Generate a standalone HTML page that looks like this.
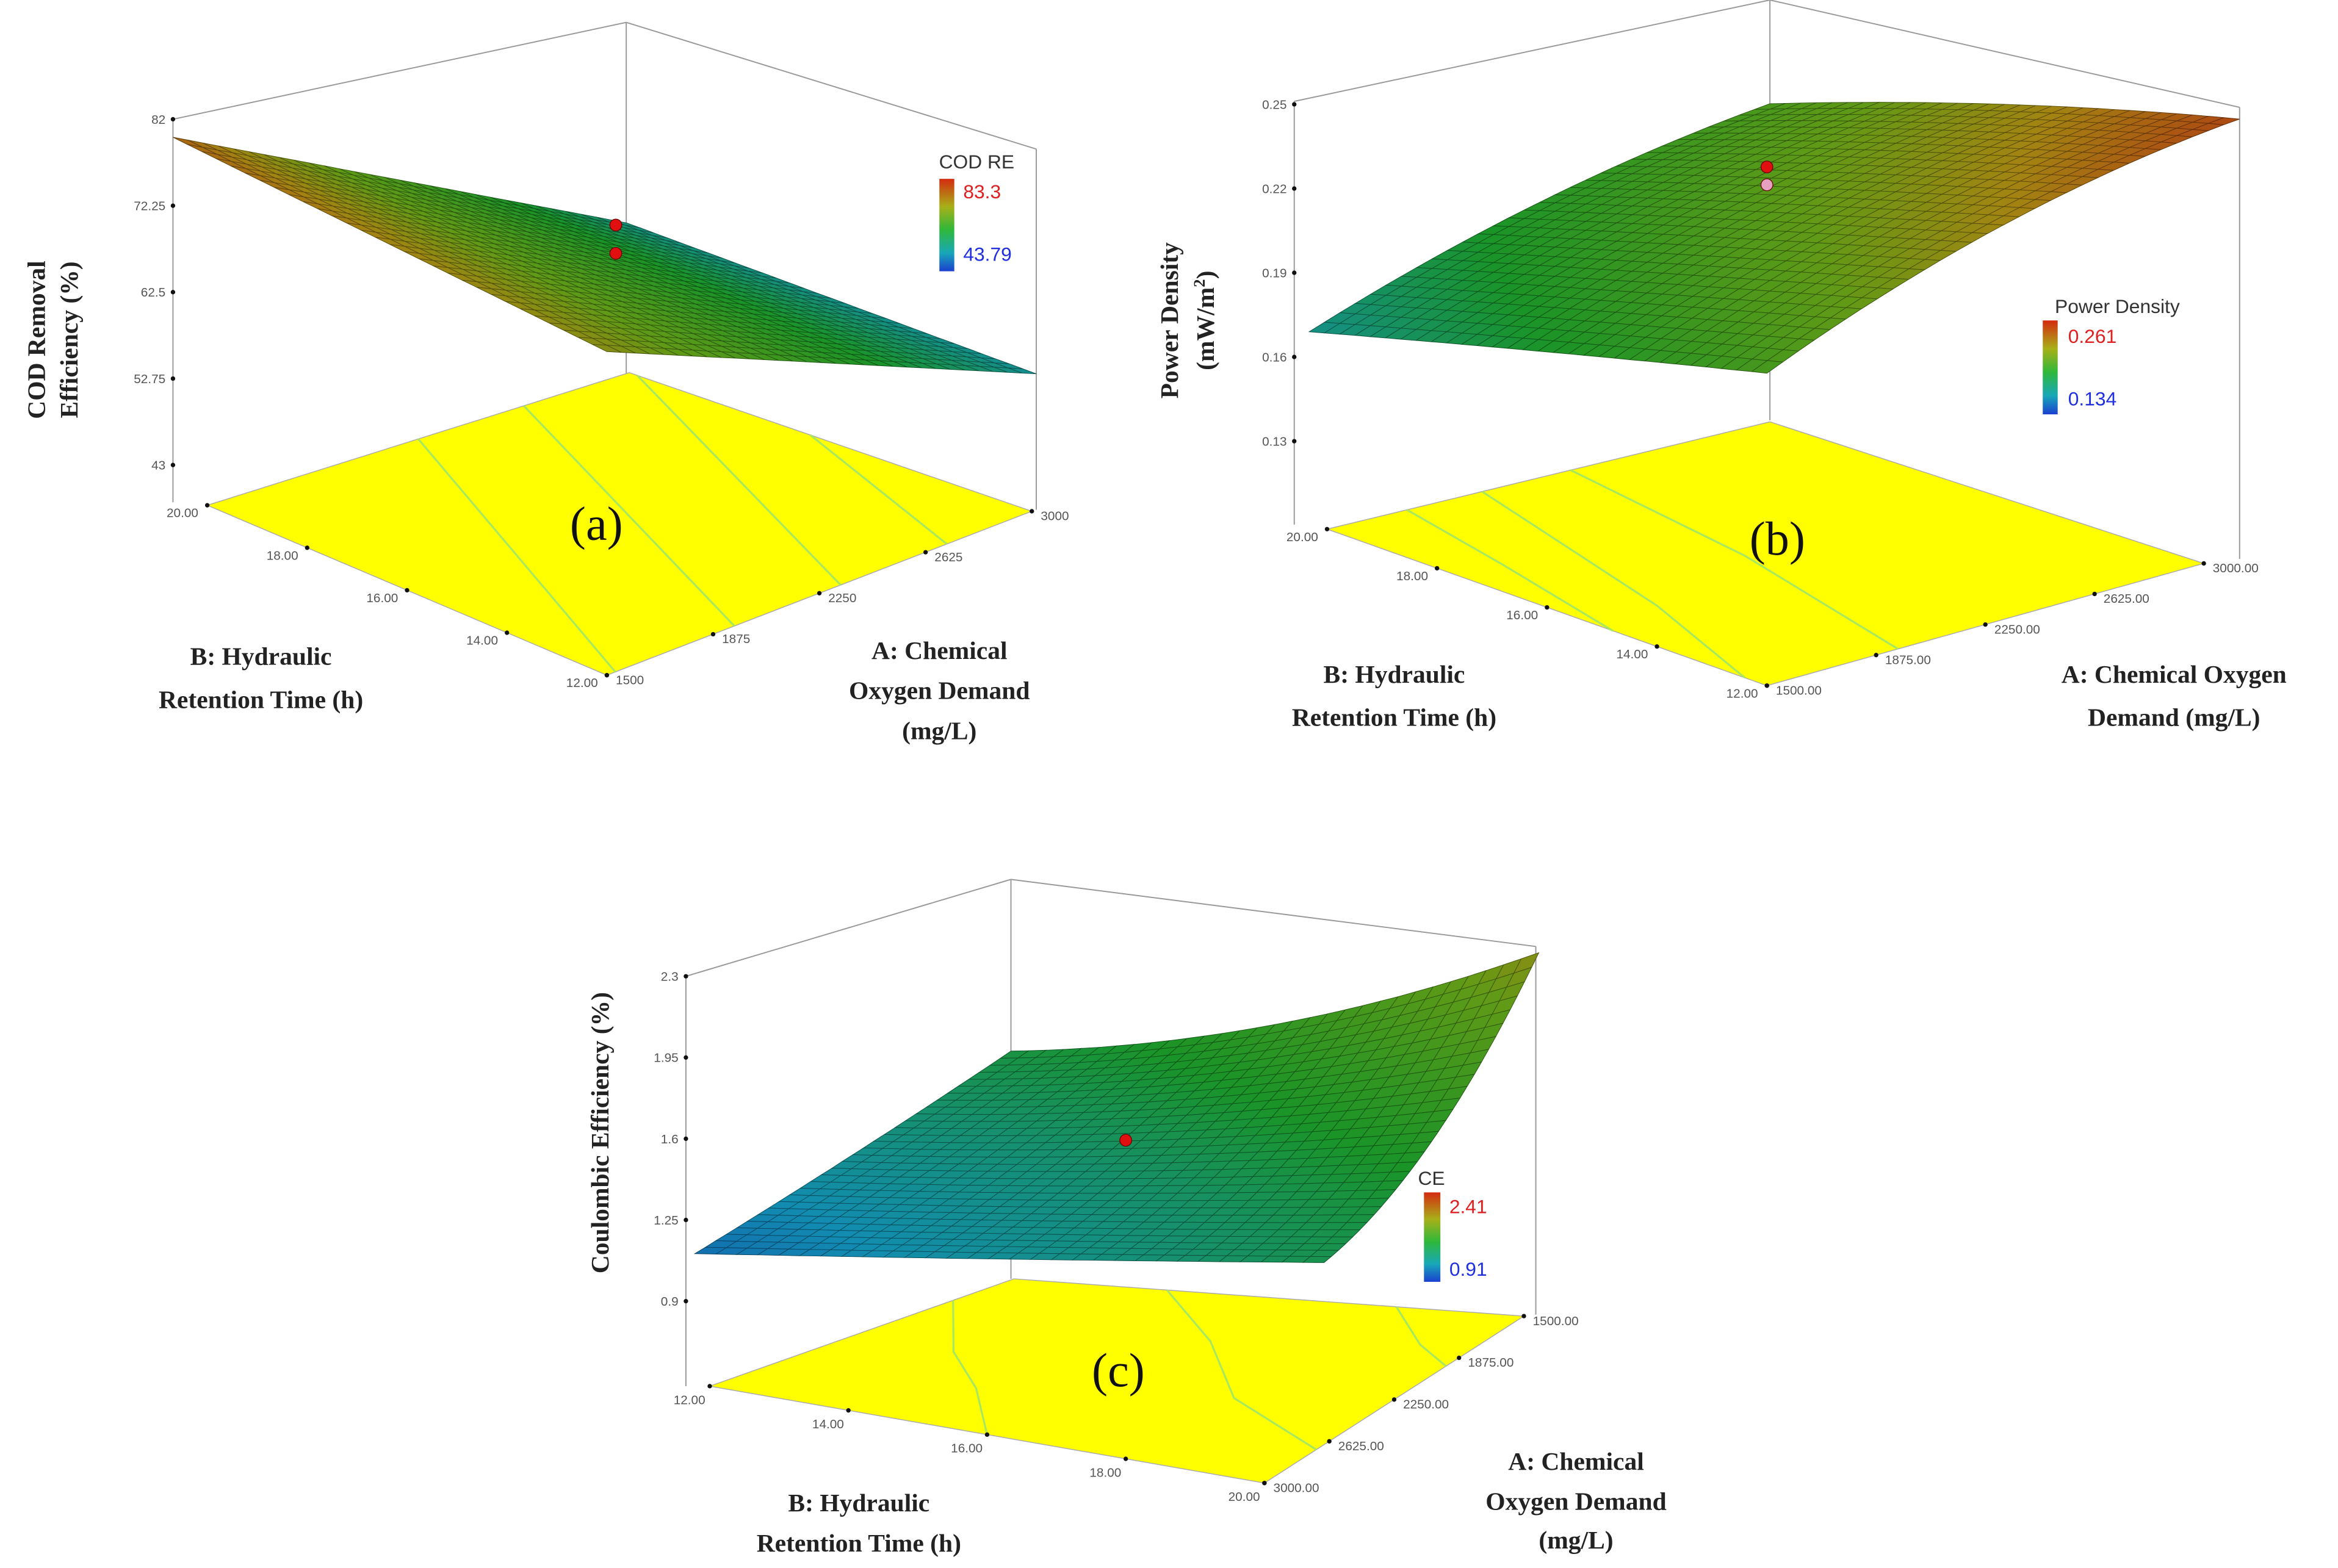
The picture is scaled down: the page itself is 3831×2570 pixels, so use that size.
<!DOCTYPE html>
<html><head><meta charset="utf-8"><style>
html,body{margin:0;padding:0;background:#fff;}
svg{display:block;}
.tk{font-family:"Liberation Sans",sans-serif;font-size:8.5px;fill:#555;}
.ti{font-family:"Liberation Serif",serif;font-weight:bold;font-size:17px;fill:#222;}
.pl{font-family:"Liberation Serif",serif;font-size:32px;fill:#111;}
.lg{font-family:"Liberation Sans",sans-serif;font-size:13px;}
</style></head><body>
<svg id="fig" width="3831" height="2570" viewBox="0 0 1568 1052" preserveAspectRatio="none" xmlns="http://www.w3.org/2000/svg">
<defs>
<linearGradient id="lgd" x1="0" y1="0" x2="0" y2="1">
<stop offset="0" stop-color="#d42a10"/><stop offset="0.3" stop-color="#a8b018"/><stop offset="0.55" stop-color="#2fb83a"/><stop offset="0.8" stop-color="#18a8b8"/><stop offset="1" stop-color="#1a40d0"/>
</linearGradient>
</defs>
<g id="pa"></g>
<g id="pb"></g>
<g id="pc"></g>

<g>
<text class="ti" transform="translate(30,228) rotate(-90)" text-anchor="middle">COD Removal</text>
<text class="ti" transform="translate(52,228) rotate(-90)" text-anchor="middle">Efficiency (%)</text>
<text class="ti" x="175" y="446" text-anchor="middle">B: Hydraulic</text>
<text class="ti" x="175" y="475" text-anchor="middle">Retention Time (h)</text>
<text class="ti" x="630" y="442" text-anchor="middle">A: Chemical</text>
<text class="ti" x="630" y="469" text-anchor="middle">Oxygen Demand</text>
<text class="ti" x="630" y="496" text-anchor="middle">(mg/L)</text>
<text class="pl" x="400" y="362" text-anchor="middle">(a)</text>
<text class="lg" x="655" y="113" text-anchor="middle" fill="#333">COD RE</text>
<rect x="630" y="120" width="10" height="62" fill="url(#lgd)"/>
<text class="lg" x="646" y="133" fill="#e02020">83.3</text>
<text class="lg" x="646" y="175" fill="#2030e0">43.79</text>
</g>
<g>
<text class="ti" transform="translate(790,215) rotate(-90)" text-anchor="middle">Power Density</text>
<text class="ti" transform="translate(814,215) rotate(-90)" text-anchor="middle">(mW/m<tspan font-size="11" dy="-6">2</tspan><tspan dy="6">)</tspan></text>
<text class="ti" x="935" y="458" text-anchor="middle">B: Hydraulic</text>
<text class="ti" x="935" y="487" text-anchor="middle">Retention Time (h)</text>
<text class="ti" x="1458" y="458" text-anchor="middle">A: Chemical Oxygen</text>
<text class="ti" x="1458" y="487" text-anchor="middle">Demand (mg/L)</text>
<text class="pl" x="1192" y="372" text-anchor="middle">(b)</text>
<text class="lg" x="1420" y="210" text-anchor="middle" fill="#333">Power Density</text>
<rect x="1370" y="215" width="10" height="63" fill="url(#lgd)"/>
<text class="lg" x="1387" y="230" fill="#e02020">0.261</text>
<text class="lg" x="1387" y="272" fill="#2030e0">0.134</text>
</g>
<g>
<text class="ti" transform="translate(408,760) rotate(-90)" text-anchor="middle">Coulombic Efficiency (%)</text>
<text class="ti" x="576" y="1014" text-anchor="middle">B: Hydraulic</text>
<text class="ti" x="576" y="1041" text-anchor="middle">Retention Time (h)</text>
<text class="ti" x="1057" y="986" text-anchor="middle">A: Chemical</text>
<text class="ti" x="1057" y="1013" text-anchor="middle">Oxygen Demand</text>
<text class="ti" x="1057" y="1039" text-anchor="middle">(mg/L)</text>
<text class="pl" x="750" y="930" text-anchor="middle">(c)</text>
<text class="lg" x="960" y="795" text-anchor="middle" fill="#333">CE</text>
<rect x="955" y="800" width="11" height="60" fill="url(#lgd)"/>
<text class="lg" x="972" y="814" fill="#e02020">2.41</text>
<text class="lg" x="972" y="856" fill="#2030e0">0.91</text>
</g>
</svg>
<script>
// ---- data ----
const aZTicks = [82, 72.25, 62.5, 52.75, 43];
const aATicks = ["1500", "1875", "2250", "2625", "3000"];
const aBTicks = ["12.00", "14.00", "16.00", "18.00", "20.00"];
const aGrid = [[75, 64.5, 54], [77.5, 66, 54.7], [80, 67.7, 55.4]]; // rows B=12,16,20 ; cols A=1500,2250,3000
const aRange = [43.79, 83.3];

const bZTicks = [0.25, 0.22, 0.19, 0.16, 0.13];
const bATicks = ["1500.00", "1875.00", "2250.00", "2625.00", "3000.00"];
const bBTicks = ["12.00", "14.00", "16.00", "18.00", "20.00"];
const bGrid = [[0.210, 0.241, 0.257], [0.190, 0.219, 0.237], [0.169, 0.196, 0.212]];
const bRange = [0.134, 0.261];

const cZTicks = [2.3, 1.95, 1.6, 1.25, 0.9];
const cATicks = ["1500.00", "1875.00", "2250.00", "2625.00", "3000.00"];
const cBTicks = ["12.00", "14.00", "16.00", "18.00", "20.00"];
const cGrid = [[1.515, 1.30, 1.105], [1.71, 1.44, 1.29], [2.10, 1.645, 1.484]];
const cRange = [0.91, 2.41];

const NS = "http://www.w3.org/2000/svg";
function mk(parent, tag, attrs) {
  const e = document.createElementNS(NS, tag);
  for (const k in attrs) e.setAttribute(k, attrs[k]);
  parent.appendChild(e);
  return e;
}
function lagr(vals, t) {
  const l0 = 2 * (t - 0.5) * (t - 1), l1 = -4 * t * (t - 1), l2 = 2 * t * (t - 0.5);
  return vals[0] * l0 + vals[1] * l1 + vals[2] * l2;
}
function surfZ(grid, u, v) {
  const rows = grid.map(r => lagr(r, u));
  return lagr(rows, v);
}
function cmap(t) {
  t = Math.max(0, Math.min(1, t));
  const st = [[0, 20, 60, 200], [0.2, 20, 160, 200], [0.45, 30, 168, 45], [0.7, 110, 175, 25], [0.85, 185, 150, 20], [1, 200, 65, 20]];
  for (let i = 0; i < st.length - 1; i++) {
    if (t <= st[i + 1][0]) {
      const f = (t - st[i][0]) / (st[i + 1][0] - st[i][0]);
      return [1, 2, 3].map(j => st[i][j] + f * (st[i + 1][j] - st[i][j]));
    }
  }
  return [200, 65, 20];
}
function rgb(c, m) { return "rgb(" + c.map(x => Math.round(x * m)).join(",") + ")"; }
function bil(C, u, v, k) {
  return (1 - u) * (1 - v) * C[0][k] + u * (1 - v) * C[1][k] + (1 - u) * v * C[2][k] + u * v * C[3][k];
}

function panel(cfg) {
  const g = document.getElementById(cfg.id);
  const F = cfg.floor, S = cfg.sx;
  const fl = (u, v) => [bil(F, u, v, 0), bil(F, u, v, 1)];
  const zScale = (cfg.zAxis.yBot - cfg.zAxis.yTop) / (cfg.zTicks[0] - cfg.zTicks[cfg.zTicks.length - 1]);
  const proj = (u, v, z) => [bil(S, u, v, 0), bil(F, u, v, 1) - (z - cfg.zFloor) * zScale];
  for (const L of cfg.box) {
    const l = mk(g, "line", { x1: L[0], y1: L[1], x2: L[2], y2: L[3], stroke: "#999", "stroke-width": 0.8 });
    
    
  }
  const zt = cfg.zTicks;
  zt.forEach((val, i) => {
    const y = cfg.zAxis.yTop + (val - zt[0]) / (zt[zt.length - 1] - zt[0]) * (cfg.zAxis.yBot - cfg.zAxis.yTop);
    const d = mk(g, "circle", { cx: cfg.zAxis.x, cy: y, r: 1.5, fill: "#111" });
    
    
    const t = mk(g, "text", { x: cfg.zAxis.x - 5, y: y + 3, "text-anchor": "end", class: "tk" });
    t.textContent = String(val);
    
    
  });
  const fp = mk(g, "polygon", { points: [F[0], F[1], F[3], F[2]].map(p => p.join(",")).join(" "), fill: "#ffff00", stroke: "#aaa", "stroke-width": 0.6 });
  
  
  for (const c of cfg.contours) {
    let d = "";
    c.forEach((p, i) => { const q = fl(p[0], p[1]); d += (i ? "L" : "M") + q[0].toFixed(1) + "," + q[1].toFixed(1); });
    const pth = mk(g, "path", { d: d, fill: "none", stroke: "#a8e860", "stroke-width": 1.3 });
    
    
  }
  cfg.aTicks.forEach((lab, i) => {
    const u = i / (cfg.aTicks.length - 1);
    const p = fl(u, cfg.aEdgeV);
    const d = mk(g, "circle", { cx: p[0], cy: p[1], r: 1.5, fill: "#111" });
    
    
    const t = mk(g, "text", { x: p[0] + cfg.aOff[0], y: p[1] + cfg.aOff[1], "text-anchor": "start", class: "tk" });
    t.textContent = lab;
    
    
  });
  cfg.bTicks.forEach((lab, i) => {
    const v = i / (cfg.bTicks.length - 1);
    const p = fl(cfg.bEdgeU, v);
    const d = mk(g, "circle", { cx: p[0], cy: p[1], r: 1.5, fill: "#111" });
    
    
    const t = mk(g, "text", { x: p[0] + cfg.bOff[0], y: p[1] + cfg.bOff[1], "text-anchor": "end", class: "tk" });
    t.textContent = lab;
    
    
  });
  const N = 30, cells = [];
  for (let i = 0; i < N; i++) for (let j = 0; j < N; j++) {
    const us = [i / N, (i + 1) / N], vs = [j / N, (j + 1) / N];
    const pts = [[us[0], vs[0]], [us[1], vs[0]], [us[1], vs[1]], [us[0], vs[1]]].map(q => proj(q[0], q[1], surfZ(cfg.grid, q[0], q[1])));
    const zc = surfZ(cfg.grid, (us[0] + us[1]) / 2, (vs[0] + vs[1]) / 2);
    const depth = fl((us[0] + us[1]) / 2, (vs[0] + vs[1]) / 2)[1];
    cells.push({ pts, zc, depth });
  }
  cells.sort((a, b) => a.depth - b.depth);
  const sg = mk(g, "g", {});
  
  
  for (const c of cells) {
    const col = cmap((c.zc - cfg.range[0]) / (cfg.range[1] - cfg.range[0]));
    const p = mk(sg, "polygon", { points: c.pts.map(q => q[0].toFixed(1) + "," + q[1].toFixed(1)).join(" "), fill: rgb(col, 0.88), stroke: rgb(col, 0.5), "stroke-width": 0.4 });
    
    
  }
  for (const d of cfg.dots) {
    const c = mk(g, "circle", { cx: d[0], cy: d[1], r: 4, fill: d[2], stroke: "#600", "stroke-width": 0.5 });
    
    
  }
}

// corner order: (Amin,Bmin), (Amax,Bmin), (Amin,Bmax), (Amax,Bmax)
panel({
  id: "pa", grid: aGrid, range: aRange, zTicks: aZTicks, zFloor: 38.5,
  zAxis: { x: 116, yTop: 80, yBot: 312 },
  floor: [[407, 453], [692, 343], [139, 339], [422, 250]],
  sx: [[407], [695], [116], [420]],
  box: [[116, 80, 116, 337], [420, 15, 420, 252], [695, 100, 695, 342], [116, 80, 420, 15], [420, 15, 695, 100]],
  contours: [[[0.02, 0], [0.5, 1]], [[0.3, 0], [0.75, 1]], [[0.55, 0], [1, 0.98]], [[0.8, 0], [1, 0.55]]],
  aTicks: aATicks, aEdgeV: 0, aOff: [6, 6],
  bTicks: aBTicks, bEdgeU: 0, bOff: [-6, 8],
  dots: [[413, 151, "#e01010"], [413, 170, "#e01010"]]
});
panel({
  id: "pb", grid: bGrid, range: bRange, zTicks: bZTicks, zFloor: 0.0987,
  zAxis: { x: 868, yTop: 70, yBot: 296 },
  floor: [[1185, 460], [1478, 378], [890, 355], [1187, 283]],
  sx: [[1185], [1502], [878], [1187]],
  box: [[868, 68, 868, 352], [1187, 0, 1187, 282], [1502, 72, 1502, 375], [868, 68, 1187, 0], [1187, 0, 1502, 72]],
  contours: [[[0, 0.35], [0.1, 0.7], [0.18, 1]], [[0, 0.05], [0.15, 0.4], [0.35, 1]], [[0.3, 0], [0.45, 0.5], [0.55, 1]]],
  aTicks: bATicks, aEdgeV: 0, aOff: [6, 6],
  bTicks: bBTicks, bEdgeU: 0, bOff: [-6, 8],
  dots: [[1185, 112, "#e01010"], [1185, 124, "#e8a0c0"]]
});
panel({
  id: "pc", grid: cGrid, range: cRange, zTicks: cZTicks, zFloor: 0.534,
  zAxis: { x: 460, yTop: 655, yBot: 873 },
  floor: [[680, 858], [476, 930], [1022, 883], [848, 995]],
  sx: [[678], [466], [1032], [888]],
  box: [[460, 655, 460, 930], [678, 590, 678, 858], [1030, 635, 1030, 882], [460, 655, 678, 590], [678, 590, 1030, 635]],
  contours: [[[0.2, 0], [0.55, 0.2], [0.75, 0.35], [1, 0.5]], [[0, 0.3], [0.3, 0.55], [0.6, 0.75], [0.8, 1]], [[0, 0.75], [0.2, 0.9], [0.3, 1]]],
  aTicks: cATicks, aEdgeV: 1, aOff: [6, 6],
  bTicks: cBTicks, bEdgeU: 1, bOff: [-3, 12],
  dots: [[755, 765, "#e01010"]]
});
</script>
</body></html>
